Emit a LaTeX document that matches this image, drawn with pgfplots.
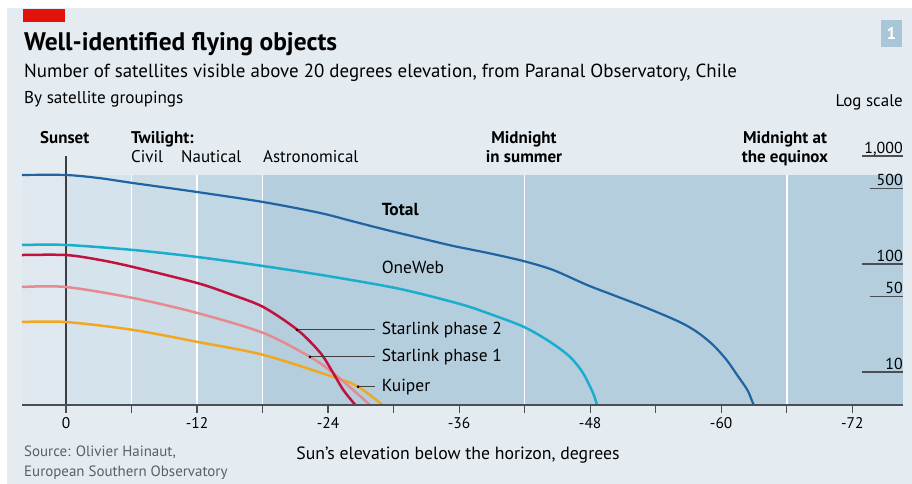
\documentclass[border=0pt]{standalone}
\usepackage{fontspec}
\setmainfont{PT Sans}
\usepackage{pgfplots}
\pgfplotsset{compat=1.18}
\definecolor{pagebg}{HTML}{E4EBF1}
\definecolor{band0}{HTML}{DFE8EF}
\definecolor{band1}{HTML}{D4E3EC}
\definecolor{band2}{HTML}{CCDDE8}
\definecolor{band3}{HTML}{C1D7E4}
\definecolor{band4}{HTML}{B4CEDD}
\definecolor{ctotal}{HTML}{1F64A0}
\definecolor{coneweb}{HTML}{1AADCE}
\definecolor{cstwo}{HTML}{C2103F}
\definecolor{csone}{HTML}{E58A8E}
\definecolor{ckuiper}{HTML}{F0A820}
\definecolor{econred}{HTML}{E3120B}
\definecolor{boxblue}{HTML}{A9C6D9}
\definecolor{axisgray}{HTML}{4A4F55}
\definecolor{srcgray}{HTML}{5A5F66}
\newcommand{\fs}[1]{\fontsize{#1}{#1}\selectfont}
\begin{document}
\begin{tikzpicture}
\path[use as bounding box] (0,0) rectangle (912bp,-484bp);
\fill[white] (0,0) rectangle (912bp,-484bp);
\fill[pagebg] (7bp,-8bp) rectangle (912bp,-484bp);
\fill[econred] (23bp,-9bp) rectangle (65bp,-22bp);
\fill[boxblue] (881bp,-20bp) rectangle (902bp,-47bp);
\node[text=white, font=\fs{17}\bfseries] at (891.5bp,-33.5bp) {1};
\node[anchor=base west, inner sep=0pt, font=\fs{25.5}\bfseries] at (24bp,-50bp) {Well-identified flying objects};
\node[anchor=base west, inner sep=0pt, font=\fs{19}] at (24bp,-77bp) {Number of satellites visible above 20 degrees elevation, from Paranal Observatory, Chile};
\node[anchor=base west, inner sep=0pt, font=\fs{17.2}] at (24bp,-103bp) {By satellite groupings};
\node[anchor=base east, inner sep=0pt, font=\fs{17}] at (903bp,-106bp) {Log scale};
\node[anchor=base west, inner sep=0pt, font=\fs{17}\bfseries] at (40bp,-143bp) {Sunset};
\node[anchor=base west, inner sep=0pt, font=\fs{17}\bfseries] at (131bp,-143bp) {Twilight:};
\node[anchor=base west, inner sep=0pt, font=\fs{17}] at (131bp,-162bp) {Civil};
\node[anchor=base west, inner sep=0pt, font=\fs{17}] at (181bp,-162bp) {Nautical};
\node[anchor=base west, inner sep=0pt, font=\fs{17}] at (263bp,-162bp) {Astronomical};
\node[anchor=base, inner sep=0pt, font=\fs{17}\bfseries] at (524bp,-143bp) {Midnight};
\node[anchor=base, inner sep=0pt, font=\fs{17}\bfseries] at (524bp,-162bp) {in summer};
\node[anchor=base, inner sep=0pt, font=\fs{17}\bfseries] at (785bp,-143bp) {Midnight at};
\node[anchor=base, inner sep=0pt, font=\fs{17}\bfseries] at (785bp,-162bp) {the equinox};
\node[anchor=base west, inner sep=0pt, font=\fs{15}, text=srcgray] at (24bp,-456bp) {Source: Olivier Hainaut,};
\node[anchor=base west, inner sep=0pt, font=\fs{15}, text=srcgray] at (24bp,-476bp) {European Southern Observatory};
\node[anchor=base, inner sep=0pt, font=\fs{17.8}] at (458bp,-459bp) {Sun’s elevation below the horizon, degrees};
\begin{axis}[
  at={(22bp,-405bp)}, anchor=south west,
  scale only axis, width=881bp, height=249bp,
  xmin=-76.65, xmax=4.03, x dir=reverse,
  ymode=log, ymin=4.94, ymax=1000,
  axis x line*=bottom, axis y line=none,
  axis on top,
  x axis line style={line width=1.4bp, color=axisgray},
  xtick={0,-12,-24,-36,-48,-60,-72},
  xticklabels={0,-12,-24,-36,-48,-60,-72},
  minor xtick={-6,-18,-30,-42,-54,-66},
  tick align=outside,
  major tick length=8bp, minor tick length=8bp,
  every tick/.style={line width=1.2bp, color=axisgray},
  xticklabel style={font=\fs{15.5}, yshift=-1bp},
  clip mode=individual,
]
\fill[band0] (axis cs:4.03,4.94) rectangle (axis cs:0,667);
\fill[band1] (axis cs:0,4.94) rectangle (axis cs:-6,667);
\fill[band2] (axis cs:-6,4.94) rectangle (axis cs:-12,667);
\fill[band3] (axis cs:-12,4.94) rectangle (axis cs:-18,667);
\fill[band4] (axis cs:-18,4.94) rectangle (axis cs:-76.65,667);
\draw[white, line width=1.6bp] (axis cs:-6,4.94) -- (axis cs:-6,667);
\draw[white, line width=1.6bp] (axis cs:-12,4.94) -- (axis cs:-12,667);
\draw[white, line width=1.6bp] (axis cs:-18,4.94) -- (axis cs:-18,667);
\draw[white, line width=1.6bp] (axis cs:-42,4.94) -- (axis cs:-42,667);
\draw[white, line width=1.6bp] (axis cs:-66,4.94) -- (axis cs:-66,667);
\draw[axisgray!80!black, line width=1.5bp] (axis cs:0,4.94) -- (axis cs:0,1000);
% right-hand log scale
\draw[axisgray, line width=1.4bp] (axis cs:-72.9,1000) -- (axis cs:-76.65,1000);
\draw[axisgray, line width=1.4bp] (axis cs:-73.6,500) -- (axis cs:-76.65,500);
\draw[axisgray, line width=1.4bp] (axis cs:-72.9,100) -- (axis cs:-76.65,100);
\draw[axisgray, line width=1.4bp] (axis cs:-73.6,50) -- (axis cs:-76.65,50);
\draw[axisgray, line width=1.4bp] (axis cs:-72.9,10) -- (axis cs:-76.65,10);
\node[anchor=base east, inner sep=0pt, font=\fs{16}] at (axis cs:-76.65,1060) {1,000};
\node[anchor=base east, inner sep=0pt, font=\fs{16}] at (axis cs:-76.65,530) {500};
\node[anchor=base east, inner sep=0pt, font=\fs{16}] at (axis cs:-76.65,106) {100};
\node[anchor=base east, inner sep=0pt, font=\fs{16}] at (axis cs:-76.65,53) {50};
\node[anchor=base east, inner sep=0pt, font=\fs{16}] at (axis cs:-76.65,10.6) {10};
% series
\addplot[ctotal, line width=2.2bp, smooth, tension=0.5] coordinates {
 (4.03,667) (0,667) (-3,625) (-6.14,562) (-12,464) (-18.05,375) (-23.26,297)
 (-26.28,248) (-29.4,206) (-32.4,174) (-35.44,147) (-38.55,127) (-41.85,106.7)
 (-44.6,88) (-47.7,64) (-50.1,51.6) (-53.2,39.1) (-56.2,29) (-57.8,23.4)
 (-59.25,17.8) (-60.5,12.9) (-61.45,9.4) (-62.4,6.8) (-62.9,5.16) (-63.0,4.94)};
\addplot[coneweb, line width=2.5bp, smooth, tension=0.5] coordinates {
 (4.03,150) (0,150) (-6.14,134.8) (-12,116.1) (-18.04,95.8) (-24.45,75.9)
 (-30.59,58.7) (-36.08,42.6) (-38.83,34.4) (-41.94,26.1) (-44.32,19.0)
 (-46.15,13.8) (-47.34,9.79) (-48.26,6.39) (-48.63,4.94)};
\addplot[ckuiper, line width=2.5bp, smooth, tension=0.5] coordinates {
 (4.03,29) (0,29) (-6.14,24.5) (-12,19) (-18.05,14.4) (-24.46,9.0)
 (-26.75,7.3) (-29.0,4.94)};
\addplot[csone, line width=2.5bp, smooth, tension=0.5] coordinates {
 (4.03,61.2) (0,61.2) (-6.14,48.4) (-12,35.2) (-18.05,23) (-22.35,13.8)
 (-24.46,9.8) (-26.3,6.8) (-27.85,4.94)};
\addplot[cstwo, line width=2.5bp, smooth, tension=0.5] coordinates {
 (4.03,121) (0,121) (-3.1,109) (-6.14,93.8) (-12,66.7) (-15,52.7) (-18.05,40)
 (-21.2,24.5) (-23.3,15) (-24.46,9.8) (-25.4,6.8) (-26.5,4.94)};
% labels
\node[anchor=west, inner sep=0pt, font=\fs{17.5}\bfseries] at (axis cs:-28.9,316) {Total};
\node[anchor=west, inner sep=0pt, font=\fs{17.5}] at (axis cs:-28.9,92) {OneWeb};
\node[anchor=west, inner sep=0pt, font=\fs{17.5}] at (axis cs:-28.9,24.5) {Starlink phase 2};
\node[anchor=west, inner sep=0pt, font=\fs{17.5}] at (axis cs:-28.9,13.8) {Starlink phase 1};
\node[anchor=west, inner sep=0pt, font=\fs{17.5}] at (axis cs:-28.9,7.3) {Kuiper};
\draw[black!75, line width=1bp] (axis cs:-21.15,24.5) -- (axis cs:-28.3,24.5);
\draw[black!75, line width=1bp] (axis cs:-22.35,13.8) -- (axis cs:-28.3,13.8);
\draw[black!75, line width=1bp] (axis cs:-26.75,7.3) -- (axis cs:-28.3,7.3);
\fill[black] (axis cs:-21.15,24.5) circle (1.5bp);
\fill[black] (axis cs:-22.35,13.8) circle (1.5bp);
\fill[black] (axis cs:-26.75,7.3) circle (1.5bp);
\end{axis}
\end{tikzpicture}
\end{document}
